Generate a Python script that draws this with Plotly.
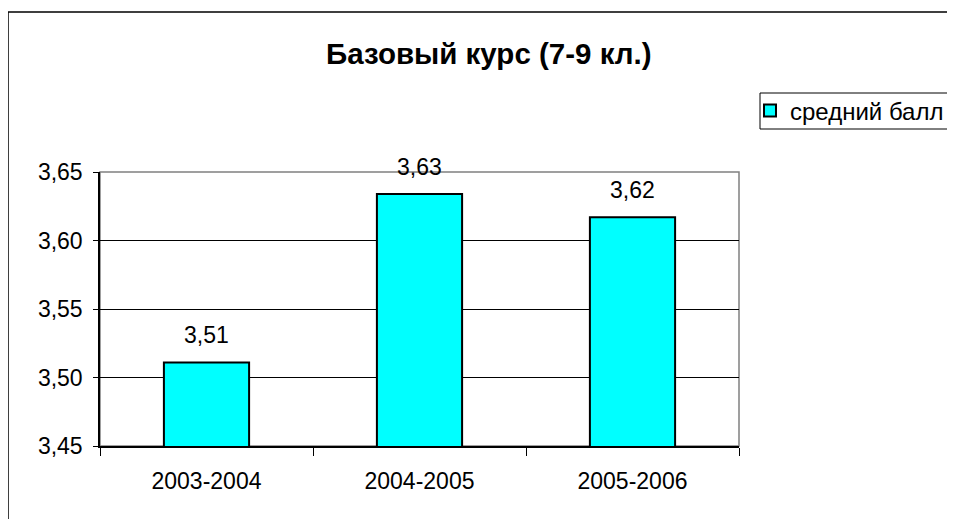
import plotly.graph_objects as go

categories = ["2003-2004", "2004-2005", "2005-2006"]
values = [3.511, 3.634, 3.617]
labels = ["3,51", "3,63", "3,62"]
series_name = "средний балл"
title_text = "Базовый курс (7-9 кл.)"
y_ticks = [3.45, 3.50, 3.55, 3.60, 3.65]
y_tick_labels = ["3,45", "3,50", "3,55", "3,60", "3,65"]

FONT = "Liberation Sans, Arial, sans-serif"

# page body has an 8px margin; work in reference pixel coordinates and subtract it
OFF = 8
W, H = 955 - OFF, 519 - OFF
L, R, T, B = 100 - OFF, 739 - OFF, 172 - OFF, 446 - OFF
pw, ph = R - L, B - T


def px_x(x):
    return (x - OFF - L) / pw


def px_y(y):
    return (B - (y - OFF)) / ph


fig = go.Figure()
fig.add_trace(go.Bar(
    x=categories, y=values, name=series_name,
    marker=dict(color="#00FFFF", line=dict(color="#000000", width=2)),
    showlegend=True, cliponaxis=False,
))

annotations = []
for c, v, t in zip(categories, values, labels):
    annotations.append(dict(x=c, y=v, xref="x", yref="y", text=t, showarrow=False,
                            yanchor="bottom", yshift=12,
                            font=dict(family=FONT, size=23, color="#000000")))
annotations.append(dict(x=px_x(489), y=px_y(53), xref="paper", yref="paper",
                        xanchor="center", yanchor="middle",
                        text="<b>" + title_text + "</b>", showarrow=False,
                        font=dict(family=FONT, size=29.5, color="#000000")))

shapes = [
    # outer chart border
    dict(type="rect", xref="paper", yref="paper", x0=px_x(8), x1=px_x(1000), y0=px_y(560), y1=px_y(12),
         line=dict(color="#000000", width=1.5), layer="below"),
    # plot area frame (top/right gray)
    dict(type="rect", xref="paper", yref="paper", x0=0, x1=1, y0=0, y1=1,
         line=dict(color="#808080", width=1.5), layer="below"),
    # legend box
    dict(type="rect", xref="paper", yref="paper", x0=px_x(760), x1=px_x(1000), y0=px_y(129), y1=px_y(93),
         line=dict(color="#000000", width=1), layer="below"),
]

fig.update_layout(
    width=W, height=H,
    margin=dict(l=L, r=W - R, t=T, b=H - B, pad=0, autoexpand=False),
    paper_bgcolor="#FFFFFF", plot_bgcolor="#FFFFFF",
    font=dict(family=FONT, size=23, color="#000000"),
    bargap=0.6,
    showlegend=True,
    legend=dict(x=px_x(750), y=px_y(111), xanchor="left", yanchor="middle",
                font=dict(family=FONT, size=24, color="#000000"),
                bgcolor="rgba(0,0,0,0)", borderwidth=0, itemsizing="constant"),
    annotations=annotations,
    shapes=shapes,
    xaxis=dict(type="category", showline=True, linecolor="#000000", linewidth=1.5,
               ticks="outside", tickson="boundaries", ticklen=8, tickcolor="#000000", tickwidth=1,
               showgrid=False, ticklabelstandoff=14,
               tickfont=dict(family=FONT, size=23, color="#000000")),
    yaxis=dict(range=[3.45, 3.65], tickvals=y_ticks, ticktext=y_tick_labels,
               showline=True, linecolor="#000000", linewidth=1.5,
               ticks="outside", ticklen=5, tickcolor="#000000", tickwidth=1,
               showgrid=True, gridcolor="#000000", gridwidth=1, zeroline=False,
               ticklabelstandoff=6,
               tickfont=dict(family=FONT, size=23, color="#000000")),
)

fig.write_html("out.html")
